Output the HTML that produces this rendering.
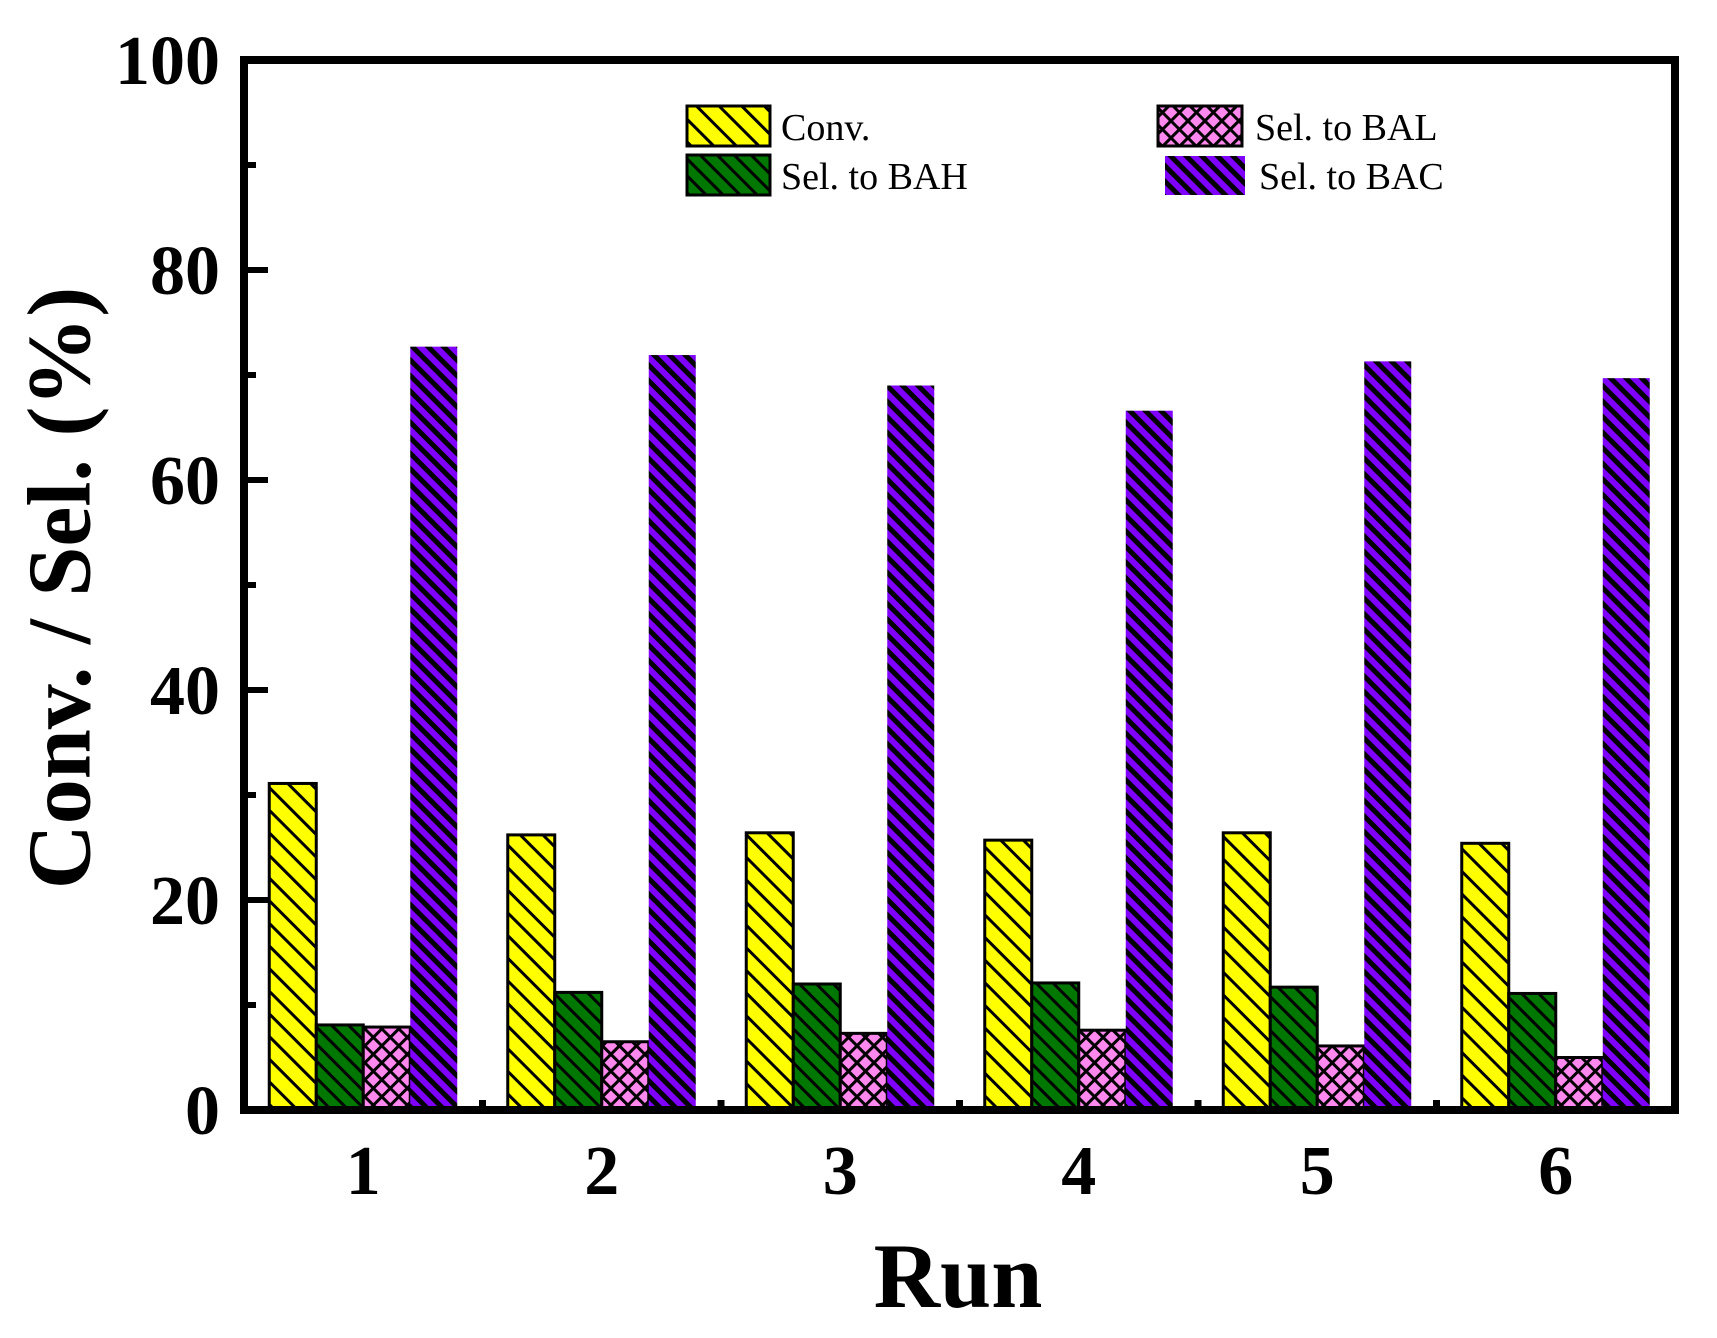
<!DOCTYPE html>
<html><head><meta charset="utf-8"><style>
body{margin:0;background:#fff}
svg{display:block;font-family:"Liberation Serif",serif}
</style></head><body>
<svg id="c" width="1717" height="1338" viewBox="0 0 1717 1338">
<defs>
<pattern id="pY" patternUnits="userSpaceOnUse" width="16" height="16" patternTransform="rotate(-45)"><rect width="16" height="16" fill="#ffff00"/><rect x="0" y="0" width="3" height="16" fill="#000"/></pattern>
<pattern id="pG" patternUnits="userSpaceOnUse" width="12" height="12" patternTransform="rotate(-45)"><rect width="12" height="12" fill="#007700"/><rect x="0" y="0" width="3" height="12" fill="#000"/></pattern>
<pattern id="pP" patternUnits="userSpaceOnUse" width="12" height="12" patternTransform="rotate(45)"><rect width="12" height="12" fill="#ff88ee"/><rect x="0" y="0" width="3" height="12" fill="#000"/><rect x="0" y="0" width="12" height="3" fill="#000"/></pattern>
<pattern id="pV" patternUnits="userSpaceOnUse" width="11" height="11" patternTransform="rotate(-45)"><rect width="11" height="11" fill="#7f00ff"/><rect x="0" y="0" width="5" height="11" fill="#000"/></pattern>
</defs>
<g id="bars"></g>
<g id="axes"></g>
<text x="60" y="588" transform="rotate(-90 60 588)" text-anchor="middle" dominant-baseline="central" font-size="90" font-weight="bold">Conv. / Sel. (%)</text>
<text x="958" y="1307" text-anchor="middle" font-size="92" font-weight="bold">Run</text>
<g font-size="38">
<g><rect x="687" y="106" width="83" height="40" fill="url(#pY)" stroke="#000" stroke-width="3"/><text x="781" y="140">Conv.</text></g>
<g><rect x="687" y="155" width="83" height="40" fill="url(#pG)" stroke="#000" stroke-width="3"/><text x="781" y="189">Sel. to BAH</text></g>
<g><rect x="1158" y="106" width="84" height="40" fill="url(#pP)" stroke="#000" stroke-width="3"/><text x="1255" y="140">Sel. to BAL</text></g>
<g><rect x="1165" y="156" width="80" height="39" fill="url(#pV)"/><text x="1259" y="189">Sel. to BAC</text></g>
</g>
</svg>
<script>
const runs = ["1","2","3","4","5","6"];
const conv = [31.1,26.2,26.4,25.7,26.4,25.4];
const selBAH = [8.1,11.2,12.0,12.1,11.7,11.1];
const selBAL = [7.9,6.5,7.3,7.6,6.1,5.0];
const selBAC = [72.7,71.9,69.0,66.6,71.3,69.7];
const yTicks = [0,20,40,60,80,100];

const NS="http://www.w3.org/2000/svg";
const X0=244, X1=1675, Y0=1110, Y100=60;
const groupW=(X1-X0)/runs.length;
function xC(i){return X0+groupW*(i+0.5);}
function yS(v){return Y0-(Y0-Y100)*v/100;}
function mk(tag,attrs,parent){const e=document.createElementNS(NS,tag);for(const k in attrs)e.setAttribute(k,attrs[k]);parent.appendChild(e);return e;}
const bars=document.getElementById('bars'), axes=document.getElementById('axes');
const series=[{v:conv,f:'url(#pY)',n:'conv',s:true},{v:selBAH,f:'url(#pG)',n:'bah',s:true},{v:selBAL,f:'url(#pP)',n:'bal',s:true},{v:selBAC,f:'url(#pV)',n:'bac',s:false}];
const bw=47;
runs.forEach((r,i)=>{
  series.forEach((s,j)=>{
    const x=xC(i)-2*bw+j*bw, y=yS(s.v[i]);
    const el=mk('rect',{x:x,y:y,width:bw,height:Y0-y,fill:s.f,stroke:s.s?'#000':'none','stroke-width':3},bars);
    
    
  });
  const t=mk('text',{x:xC(i),y:1194,'text-anchor':'middle','font-size':70,'font-weight':'bold'},axes);
  t.textContent=r;
  
  
  if(i>0) mk('line',{x1:X0+groupW*i,x2:X0+groupW*i,y1:Y0,y2:Y0-10,stroke:'#000','stroke-width':7},axes);
});
for(let v=10;v<100;v+=20) mk('line',{x1:X0,x2:X0+12,y1:yS(v),y2:yS(v),stroke:'#000','stroke-width':6},axes);
yTicks.forEach(v=>{
  mk('line',{x1:X0,x2:X0+24,y1:yS(v),y2:yS(v),stroke:'#000','stroke-width':6},axes);
  const t=mk('text',{x:220,y:yS(v)+24,'text-anchor':'end','font-size':70,'font-weight':'bold'},axes);
  t.textContent=v;
  
  
});
const fr=mk('rect',{x:X0,y:Y100,width:X1-X0,height:Y0-Y100,fill:'none',stroke:'#000','stroke-width':8},axes);


</script>
</body></html>
